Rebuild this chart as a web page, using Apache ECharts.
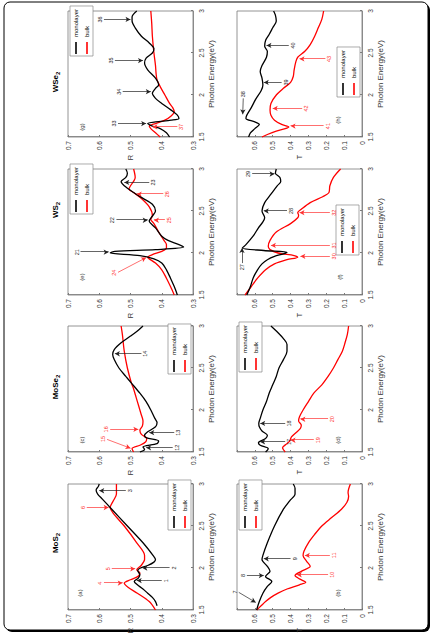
<!DOCTYPE html>
<html><head><meta charset="utf-8">
<script src="https://cdn.jsdelivr.net/npm/echarts/dist/echarts.min.js"></script>
<style>
html,body{margin:0;padding:0;width:435px;height:638px;overflow:hidden;background:#fff}
#wrap{position:absolute;left:0;top:0;width:638px;height:435px;transform-origin:0 0;transform:translateY(638px) rotate(-90deg);}
</style></head><body><div id="wrap"></div>
<script>
// ---------- data: [photon energy (eV), value] ----------
const materials = ['MoS2','MoSe2','WS2','WSe2'];
const panelLetters = ['(a)','(b)','(c)','(d)','(e)','(f)','(g)','(h)'];
const energyTicks = [1.5, 2, 2.5, 3];
const rTicks = [0.3, 0.4, 0.5, 0.6, 0.7];
const tTicks = [0, 0.1, 0.2, 0.3, 0.4, 0.5, 0.6];

const mos2R_mono = [[1.55,0.415],[1.6,0.42],[1.65,0.43],[1.7,0.445],[1.75,0.46],[1.8,0.478],[1.84,0.488],[1.88,0.475],[1.92,0.47],[1.97,0.477],[2.0,0.468],[2.03,0.445],[2.07,0.425],[2.1,0.42],[2.15,0.428],[2.3,0.46],[2.5,0.51],[2.7,0.56],[2.82,0.59],[2.88,0.605],[2.93,0.61],[2.97,0.603],[3.0,0.6]];
const mos2R_bulk = [[1.5,0.42],[1.6,0.44],[1.7,0.478],[1.77,0.508],[1.82,0.52],[1.86,0.5],[1.9,0.476],[1.94,0.47],[1.98,0.48],[2.03,0.466],[2.1,0.455],[2.15,0.455],[2.3,0.48],[2.5,0.52],[2.65,0.555],[2.72,0.565],[2.8,0.555],[2.88,0.545],[3.0,0.545]];
const mos2T_mono = [[1.5,0.59],[1.6,0.575],[1.7,0.555],[1.78,0.53],[1.84,0.505],[1.9,0.54],[1.96,0.515],[2.02,0.53],[2.1,0.56],[2.15,0.555],[2.3,0.53],[2.5,0.49],[2.7,0.44],[2.8,0.405],[2.88,0.375],[2.95,0.375],[3.0,0.385]];
const mos2T_bulk = [[1.5,0.59],[1.55,0.565],[1.6,0.54],[1.65,0.51],[1.7,0.47],[1.75,0.42],[1.8,0.35],[1.83,0.315],[1.87,0.35],[1.91,0.375],[1.96,0.34],[2.02,0.29],[2.08,0.31],[2.15,0.33],[2.2,0.325],[2.3,0.3],[2.4,0.265],[2.5,0.225],[2.6,0.17],[2.7,0.115],[2.78,0.085],[2.85,0.075],[2.9,0.078],[3.0,0.065]];
const mose2R_mono = [[1.5,0.47],[1.53,0.455],[1.56,0.46],[1.6,0.415],[1.63,0.41],[1.67,0.45],[1.7,0.455],[1.74,0.445],[1.8,0.42],[1.85,0.415],[1.9,0.422],[2.0,0.435],[2.1,0.45],[2.2,0.47],[2.32,0.497],[2.4,0.515],[2.5,0.537],[2.6,0.552],[2.66,0.557],[2.72,0.552],[2.8,0.53],[2.88,0.5],[2.95,0.475],[3.0,0.46]];
const mose2R_bulk = [[1.5,0.49],[1.54,0.495],[1.58,0.47],[1.62,0.452],[1.66,0.448],[1.71,0.465],[1.76,0.47],[1.81,0.462],[1.87,0.46],[1.95,0.466],[2.05,0.474],[2.15,0.482],[2.25,0.49],[2.32,0.497],[2.5,0.51],[2.7,0.52],[2.9,0.526],[3.0,0.53]];
const mose2T_mono = [[1.5,0.54],[1.54,0.525],[1.58,0.57],[1.61,0.58],[1.66,0.54],[1.7,0.53],[1.75,0.56],[1.8,0.575],[1.84,0.578],[1.9,0.57],[2.0,0.555],[2.1,0.535],[2.2,0.52],[2.3,0.5],[2.4,0.48],[2.5,0.465],[2.6,0.44],[2.7,0.42],[2.78,0.42],[2.85,0.44],[2.92,0.47],[3.0,0.51]];
const mose2T_bulk = [[1.5,0.43],[1.55,0.445],[1.6,0.42],[1.63,0.405],[1.68,0.395],[1.73,0.37],[1.78,0.345],[1.82,0.34],[1.87,0.355],[1.92,0.35],[2.0,0.33],[2.1,0.3],[2.2,0.27],[2.3,0.225],[2.4,0.19],[2.5,0.16],[2.6,0.135],[2.7,0.11],[2.8,0.095],[2.9,0.082],[3.0,0.075]];
const ws2R_mono = [[1.5,0.35],[1.6,0.36],[1.7,0.372],[1.8,0.385],[1.88,0.4],[1.93,0.425],[1.97,0.47],[2.0,0.565],[2.02,0.55],[2.04,0.42],[2.07,0.33],[2.1,0.345],[2.15,0.38],[2.2,0.4],[2.3,0.42],[2.38,0.44],[2.44,0.43],[2.5,0.42],[2.58,0.43],[2.65,0.46],[2.72,0.49],[2.8,0.52],[2.85,0.53],[2.9,0.515],[2.95,0.51],[3.0,0.515]];
const ws2R_bulk = [[1.5,0.36],[1.6,0.372],[1.7,0.385],[1.8,0.4],[1.88,0.42],[1.93,0.44],[1.95,0.445],[1.98,0.43],[2.02,0.4],[2.06,0.385],[2.1,0.385],[2.15,0.393],[2.25,0.41],[2.35,0.425],[2.4,0.435],[2.45,0.43],[2.55,0.44],[2.65,0.465],[2.72,0.49],[2.76,0.505],[2.8,0.5],[2.9,0.485],[3.0,0.49]];
const ws2T_mono = [[1.5,0.645],[1.6,0.625],[1.7,0.61],[1.8,0.585],[1.87,0.56],[1.92,0.53],[1.96,0.49],[1.99,0.44],[2.01,0.42],[2.03,0.55],[2.06,0.67],[2.1,0.65],[2.2,0.61],[2.3,0.58],[2.37,0.555],[2.42,0.545],[2.5,0.56],[2.6,0.545],[2.7,0.51],[2.8,0.475],[2.85,0.455],[2.9,0.46],[2.95,0.485],[3.0,0.48]];
const ws2T_bulk = [[1.5,0.655],[1.6,0.62],[1.7,0.585],[1.8,0.54],[1.87,0.49],[1.92,0.42],[1.95,0.36],[1.97,0.38],[2.0,0.47],[2.04,0.515],[2.08,0.525],[2.15,0.515],[2.25,0.48],[2.35,0.4],[2.42,0.36],[2.45,0.355],[2.48,0.36],[2.52,0.34],[2.6,0.29],[2.67,0.22],[2.72,0.185],[2.8,0.18],[2.9,0.16],[3.0,0.12]];
const wse2R_mono = [[1.5,0.375],[1.55,0.385],[1.6,0.405],[1.63,0.43],[1.66,0.445],[1.68,0.42],[1.7,0.37],[1.72,0.345],[1.76,0.35],[1.82,0.37],[1.9,0.4],[1.96,0.42],[2.02,0.43],[2.08,0.42],[2.12,0.41],[2.2,0.42],[2.3,0.445],[2.38,0.455],[2.44,0.45],[2.5,0.43],[2.55,0.425],[2.62,0.44],[2.7,0.465],[2.8,0.485],[2.88,0.495],[2.93,0.495],[3.0,0.48]];
const wse2R_bulk = [[1.5,0.405],[1.55,0.42],[1.6,0.435],[1.63,0.44],[1.66,0.42],[1.7,0.39],[1.75,0.37],[1.8,0.36],[1.85,0.365],[1.9,0.375],[2.0,0.39],[2.1,0.405],[2.18,0.415],[2.25,0.418],[2.35,0.42],[2.5,0.425],[2.7,0.43],[2.85,0.432],[3.0,0.435]];
const wse2T_mono = [[1.5,0.635],[1.55,0.625],[1.6,0.6],[1.65,0.575],[1.68,0.6],[1.72,0.65],[1.76,0.645],[1.85,0.62],[1.95,0.595],[2.05,0.565],[2.12,0.555],[2.2,0.56],[2.28,0.57],[2.35,0.56],[2.45,0.535],[2.52,0.53],[2.58,0.545],[2.65,0.54],[2.72,0.52],[2.8,0.5],[2.88,0.48],[2.95,0.485],[3.0,0.495]];
const wse2T_bulk = [[1.5,0.56],[1.53,0.53],[1.57,0.48],[1.6,0.43],[1.62,0.41],[1.65,0.45],[1.7,0.49],[1.76,0.51],[1.82,0.515],[1.9,0.51],[2.0,0.48],[2.08,0.44],[2.15,0.4],[2.22,0.385],[2.3,0.38],[2.4,0.37],[2.45,0.36],[2.52,0.32],[2.6,0.29],[2.7,0.265],[2.8,0.245],[2.9,0.225],[3.0,0.215]];

// peak annotations: [label, fromE, fromValue, toE, toValue]
const notes_a_mono = [['1',1.85,0.40,1.85,0.48],['2',2.0,0.375,2.0,0.462],['3',2.92,0.515,2.92,0.6]];
const notes_a_bulk = [['4',1.82,0.585,1.82,0.525],['5',1.99,0.56,1.99,0.485],['6',2.72,0.64,2.72,0.57]];
const notes_b_mono = [['7',1.71,0.69,1.59,0.595],['8',1.91,0.645,1.91,0.55],['9',2.11,0.4,2.11,0.55]];
const notes_b_bulk = [['10',1.92,0.19,1.92,0.365],['11',2.15,0.18,2.15,0.32]];
const notes_c_mono = [['12',1.55,0.365,1.55,0.45],['13',1.73,0.36,1.73,0.44],['14',2.67,0.465,2.67,0.55]];
const notes_c_bulk = [['15',1.65,0.575,1.545,0.5],['16',1.77,0.565,1.77,0.475]];
const notes_d_mono = [['17',1.62,0.43,1.62,0.57],['18',1.84,0.43,1.84,0.57]];
const notes_d_bulk = [['19',1.64,0.27,1.64,0.4],['20',1.89,0.19,1.89,0.345]];
const notes_e_mono = [['21',2.01,0.66,2.01,0.57],['22',2.39,0.545,2.39,0.445],['23',2.84,0.44,2.84,0.52]];
const notes_e_bulk = [['24',1.77,0.54,1.945,0.45],['25',2.39,0.39,2.39,0.425],['26',2.7,0.395,2.7,0.48]];
const notes_f_mono = [['27',1.88,0.672,2.06,0.672],['28',2.5,0.42,2.5,0.55],['29',2.94,0.615,2.94,0.49]];
const notes_f_bulk = [['30',1.96,0.18,1.96,0.345],['31',2.09,0.18,2.09,0.51],['32',2.48,0.18,2.48,0.35]];
const notes_g_mono = [['33',1.66,0.54,1.66,0.45],['34',2.04,0.525,2.04,0.435],['35',2.41,0.55,2.41,0.46],['36',2.9,0.585,2.9,0.5]];
const notes_g_bulk = [['37',1.62,0.35,1.62,0.43]];
const notes_h_mono = [['38',1.96,0.665,1.77,0.668],['39',2.15,0.45,2.15,0.55],['40',2.59,0.41,2.59,0.535]];
const notes_h_bulk = [['41',1.63,0.215,1.63,0.4],['42',1.84,0.335,1.84,0.5],['43',2.43,0.205,2.43,0.35]];

// ---------- layout (unrotated page 638 x 435) ----------
const FONT = 'Liberation Sans';
const colLeft = [28, 186, 343, 501];
const rowTop = [68, 237];
const GW = 126, GH = 125;
const titleX = [95, 251, 428, 556];
const legendPos = [[108,168],[108,239],[264,168],[266,239],[424,70],[383,336],[582,70],[541,337]];
const letterPos = [[45,80],[45,338],[198,82],[198,338],[361,82],[361,340],[511,82],[518,338]];

const panels = [
  {mono: mos2R_mono, bulk: mos2R_bulk, nm: notes_a_mono, nb: notes_a_bulk},
  {mono: mos2T_mono, bulk: mos2T_bulk, nm: notes_b_mono, nb: notes_b_bulk},
  {mono: mose2R_mono, bulk: mose2R_bulk, nm: notes_c_mono, nb: notes_c_bulk},
  {mono: mose2T_mono, bulk: mose2T_bulk, nm: notes_d_mono, nb: notes_d_bulk},
  {mono: ws2R_mono, bulk: ws2R_bulk, nm: notes_e_mono, nb: notes_e_bulk},
  {mono: ws2T_mono, bulk: ws2T_bulk, nm: notes_f_mono, nb: notes_f_bulk},
  {mono: wse2R_mono, bulk: wse2R_bulk, nm: notes_g_mono, nb: notes_g_bulk},
  {mono: wse2T_mono, bulk: wse2T_bulk, nm: notes_h_mono, nb: notes_h_bulk}
];

const grids = [], xAxes = [], yAxes = [], series = [], legends = [], graphics = [];

graphics.push({type:'rect', z:-20, shape:{x:6, y:6, width:628, height:424, r:6}, style:{fill:'#000'}});
graphics.push({type:'rect', z:-19, shape:{x:8, y:4, width:628, height:424, r:6}, style:{fill:'#fff', stroke:'#000', lineWidth:1}});

function markLineFor(notes, color) {
  return {
    silent: true, symbol: ['none','arrow'], symbolSize: [4,5], animation: false,
    lineStyle: {color: color, width: 0.7, type: 'solid'},
    label: {show: true, position: 'start', formatter: '{b}', fontSize: 5.5, fontFamily: FONT, color: color, distance: 1},
    data: notes.map(n => [{name: n[0], coord: [n[1], n[2]]}, {coord: [n[3], n[4]]}])
  };
}

panels.forEach((p, i) => {
  const col = Math.floor(i / 2), row = i % 2;
  const isR = row === 0;
  grids.push({left: colLeft[col], top: rowTop[row], width: GW, height: GH, show: true,
    borderColor: '#7a7a7a', borderWidth: 0.8, backgroundColor: '#fff'});
  xAxes.push({type: 'value', gridIndex: i, min: energyTicks[0], max: energyTicks[energyTicks.length-1], interval: 0.5,
    axisLine: {show: true, lineStyle: {color: '#7a7a7a', width: 0.8}},
    axisTick: {show: true, inside: true, length: 2, lineStyle: {color: '#7a7a7a'}},
    splitLine: {show: false},
    axisLabel: {fontSize: 6.5, fontFamily: FONT, color: '#333', margin: 5, formatter: v => String(v)},
    name: 'Photon Energy(eV)', nameLocation: 'middle', nameGap: 14,
    nameTextStyle: {fontSize: 8, fontFamily: FONT, color: '#333'}});
  const ticks = isR ? rTicks : tTicks;
  yAxes.push({type: 'value', gridIndex: i, min: isR ? 0.3 : 0, max: 0.7, interval: 0.1,
    axisLine: {show: true, lineStyle: {color: '#7a7a7a', width: 0.8}},
    axisTick: {show: true, inside: true, length: 2, lineStyle: {color: '#7a7a7a'}},
    splitLine: {show: false},
    axisLabel: {fontSize: 6.5, fontFamily: FONT, color: '#333', margin: 4,
      formatter: v => { const t = ticks.find(k => Math.abs(k - v) < 1e-6); return t === undefined ? '' : String(t); }},
    name: isR ? 'R' : 'T', nameLocation: 'middle', nameGap: 12, nameRotate: 0,
    nameTextStyle: {fontSize: 7.5, fontFamily: FONT, color: '#333', padding: isR ? [0,0,4,0] : [0,0,16,0]}});
  series.push({type: 'line', name: 'monolayer', xAxisIndex: i, yAxisIndex: i, data: p.mono,
    symbol: 'none', smooth: 0.3, lineStyle: {color: '#000', width: 1.3}, itemStyle: {color: '#000'},
    markLine: markLineFor(p.nm, '#222'), z: 3});
  series.push({type: 'line', name: 'bulk', xAxisIndex: i, yAxisIndex: i, data: p.bulk,
    symbol: 'none', smooth: 0.3, lineStyle: {color: '#ff0000', width: 1.3}, itemStyle: {color: '#ff0000'},
    markLine: markLineFor(p.nb, '#ff3030'), z: 2});
  legends.push({left: legendPos[i][0], top: legendPos[i][1], orient: 'vertical',
    data: [{name: 'monolayer', icon: 'rect', itemStyle: {color: '#000'}}, {name: 'bulk', icon: 'rect', itemStyle: {color: '#ff0000'}}],
    itemWidth: 12, itemHeight: 1.6, itemGap: 5, padding: [3,3,3,2], borderColor: '#888', borderWidth: 0.7,
    backgroundColor: '#fff', selectedMode: false, textStyle: {fontSize: 6, fontFamily: FONT, color: '#000'}});
  graphics.push({type: 'text', x: letterPos[i][0], y: letterPos[i][1], z: 10,
    style: {text: panelLetters[i], fontSize: 6, fontFamily: FONT, fill: '#333', align: 'center', verticalAlign: 'middle'}});
});

materials.forEach((m, c) => {
  const base = m.slice(0, -1), sub = m.slice(-1);
  graphics.push({type: 'text', x: titleX[c], y: 55, z: 10,
    style: {text: base + '{s|' + sub + '}', fontSize: 8, fontWeight: 'bold', fontFamily: FONT, fill: '#000',
      align: 'center', verticalAlign: 'middle', lineHeight: 12,
      rich: {s: {fontSize: 6, fontWeight: 'bold', fontFamily: FONT, fill: '#000', verticalAlign: 'bottom', lineHeight: 12}}}});
});

const chart = echarts.init(document.getElementById('wrap'), null, {renderer: 'svg', width: 638, height: 435});
chart.setOption({
  animation: false,
  backgroundColor: '#fff',
  grid: grids, xAxis: xAxes, yAxis: yAxes, series: series, legend: legends, graphic: graphics
});
</script></body></html>
